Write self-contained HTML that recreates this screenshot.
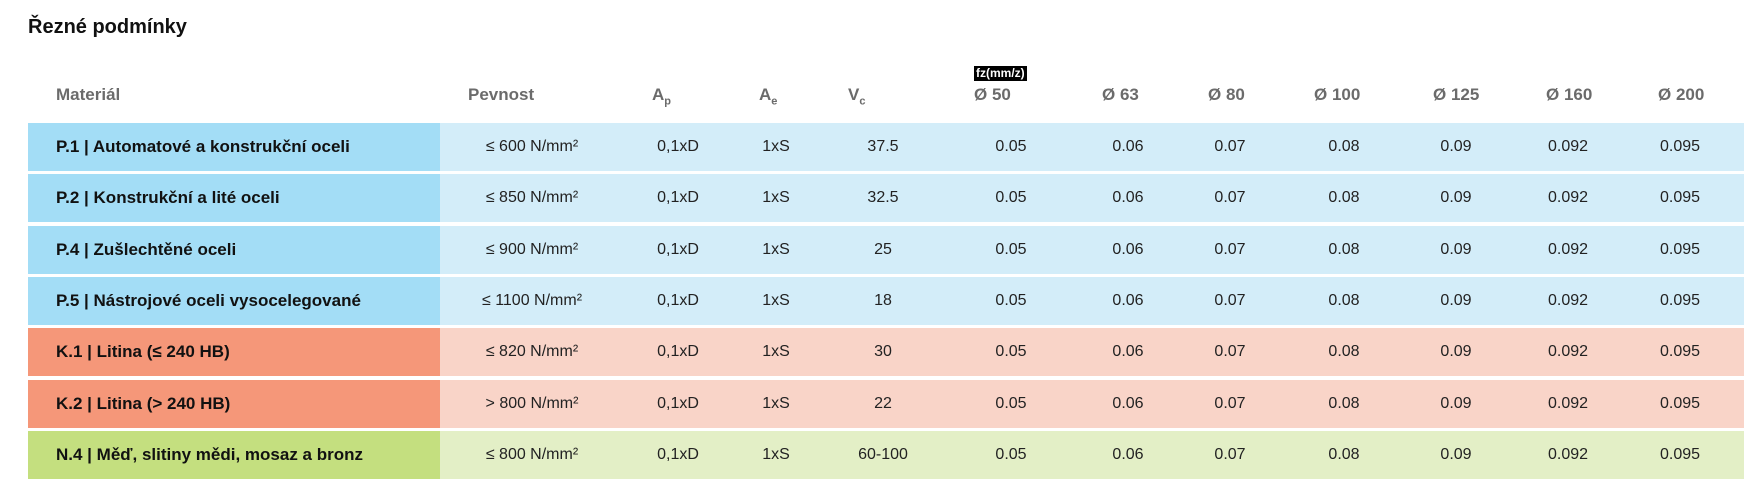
<!DOCTYPE html>
<html><head><meta charset="utf-8"><style>
body{margin:0;width:1757px;height:501px;background:#fff;font-family:"Liberation Sans","DejaVu Sans",sans-serif;position:relative;overflow:hidden}
.t{position:absolute;left:28px;top:16px;font-size:20px;font-weight:bold;color:#111}
.h{position:absolute;top:85px;font-size:17px;font-weight:bold;color:#6b6b6b;white-space:nowrap}
.h sub{font-size:11px}
.fz{position:absolute;left:974px;top:66px;background:#000;color:#fff;font-size:12px;font-weight:bold;padding:0 2px;line-height:15px}
.r{position:absolute;left:28px;width:1716px;height:48px}
.r .m{position:absolute;left:0;top:0;width:412px;height:48px;font-weight:bold;font-size:17px;line-height:48px;padding-left:28px;box-sizing:border-box;color:#111}
.r .c{position:absolute;top:0;line-height:48px;font-size:16px;color:#222;width:120px;text-align:center;margin-left:-60px}
</style></head><body>
<div class="t">Řezné podmínky</div>
<div class="h" style="left:56px">Materiál</div>
<div class="h" style="left:468px">Pevnost</div>
<div class="h" style="left:652px">A<sub>p</sub></div>
<div class="h" style="left:759px">A<sub>e</sub></div>
<div class="h" style="left:848px">V<sub>c</sub></div>
<div class="fz">fz(mm/z)</div>
<div class="h" style="left:974px">Ø 50</div>
<div class="h" style="left:1102px">Ø 63</div>
<div class="h" style="left:1208px">Ø 80</div>
<div class="h" style="left:1314px">Ø 100</div>
<div class="h" style="left:1433px">Ø 125</div>
<div class="h" style="left:1546px">Ø 160</div>
<div class="h" style="left:1658px">Ø 200</div>
<div id="rows"></div>
<script>
var d=[["P.1 | Automatové a konstrukční oceli","≤ 600 N/mm²","37.5","#a3ddf6","#d3edf9"],
["P.2 | Konstrukční a lité oceli","≤ 850 N/mm²","32.5","#a3ddf6","#d3edf9"],
["P.4 | Zušlechtěné oceli","≤ 900 N/mm²","25","#a3ddf6","#d3edf9"],
["P.5 | Nástrojové oceli vysocelegované","≤ 1100 N/mm²","18","#a3ddf6","#d3edf9"],
["K.1 | Litina (≤ 240 HB)","≤ 820 N/mm²","30","#f59779","#f9d4c8"],
["K.2 | Litina (> 240 HB)","> 800 N/mm²","22","#f59779","#f9d4c8"],
["N.4 | Měď, slitiny mědi, mosaz a bronz","≤ 800 N/mm²","60-100","#c4df7f","#e3efc6"]];
var xs=[532,678,776,883,1011,1128,1230,1344,1456,1568,1680];
var vals=["0.05","0.06","0.07","0.08","0.09","0.092","0.095"];
var h="";
d.forEach(function(r,i){
 var top=123+i*51.3;
 h+='<div class="r" style="top:'+top+'px;background:'+r[4]+'"><div class="m" style="background:'+r[3]+'">'+r[0]+'</div>';
 var cells=[r[1],"0,1xD","1xS",r[2]].concat(vals);
 cells.forEach(function(c,j){h+='<div class="c" style="left:'+(xs[j]-28)+'px">'+c+'</div>';});
 h+='</div>';
});
document.getElementById("rows").innerHTML=h;
</script>
</body></html>
